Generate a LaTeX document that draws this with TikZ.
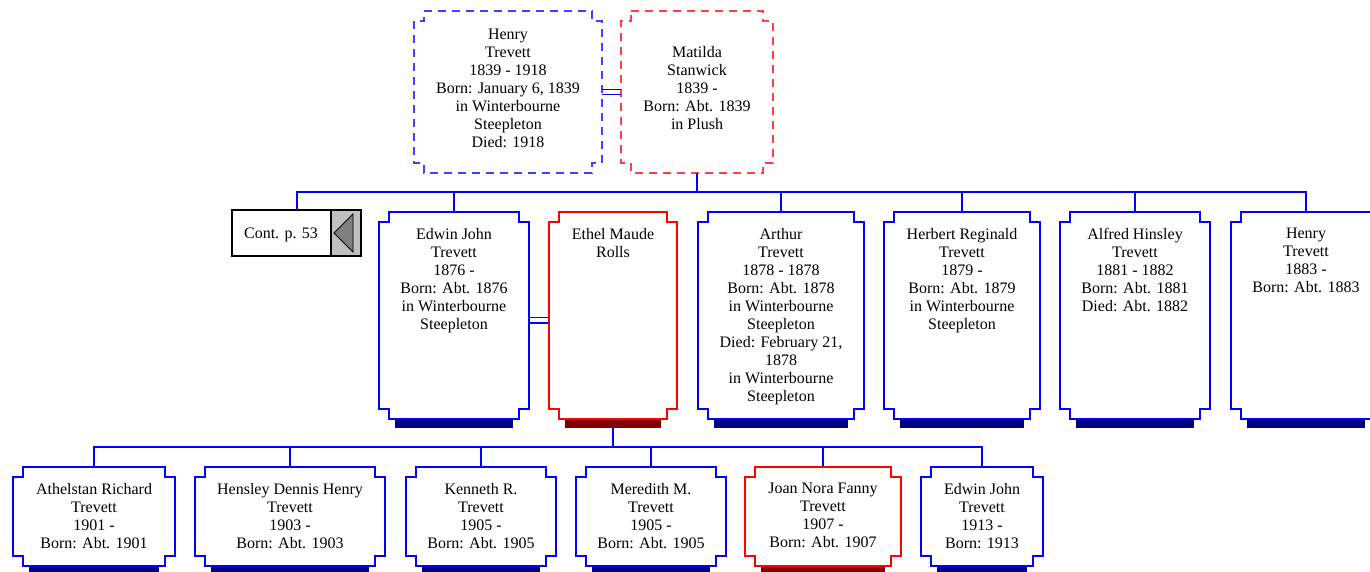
\documentclass[tikz,border=0pt]{standalone}
\usepackage{fontspec}
\setmainfont{Liberation Serif}
\usetikzlibrary{positioning}
\definecolor{linkblue}{RGB}{0,0,255}
\definecolor{wifered}{RGB}{255,0,0}
\definecolor{navyshade}{RGB}{0,0,128}
\definecolor{maroonshade}{RGB}{128,0,0}
\definecolor{btngray}{RGB}{192,192,192}
\definecolor{tipgray}{RGB}{128,128,128}
\newcommand{\cardfont}{\fontsize{16}{18}\selectfont}

\begin{document}
\begin{tikzpicture}[
    x=1pt, y=-1pt,
    link/.style={draw=linkblue, line width=2pt},
    wedlock/.style={draw=linkblue, line width=1.3pt},
    kidbox/.style={minimum width=#1, inner sep=0pt, outer sep=0pt},
    tallkid/.style={kidbox=#1, minimum height=207pt},
    shortkid/.style={kidbox=#1, minimum height=99pt},
    parentbox/.style={kidbox=#1, minimum height=162pt},
    kidtext/.style={anchor=north, yshift=-16pt, align=center, font=\cardfont, inner sep=0pt},
    parenttext/.style={anchor=center, yshift=3.5pt, align=center, font=\cardfont, inner sep=0pt},
    conttext/.style={anchor=center, xshift=-15.5pt, yshift=-2pt, font=\cardfont, inner sep=0pt},
    frameline/.style={line width=2pt},
    dashframe/.style={line width=1.5pt, dash pattern=on 8pt off 6pt},
    notched/.style={insert path={
        ([xshift=10pt]#1.north west) -- ([xshift=-10pt]#1.north east)
        -- ([xshift=-10pt,yshift=-10pt]#1.north east) -- ([yshift=-10pt]#1.north east)
        -- ([yshift=10pt]#1.south east) -- ([xshift=-10pt,yshift=10pt]#1.south east)
        -- ([xshift=-10pt]#1.south east) -- ([xshift=10pt]#1.south west)
        -- ([xshift=10pt,yshift=10pt]#1.south west) -- ([yshift=10pt]#1.south west)
        -- ([yshift=-10pt]#1.north west) -- ([xshift=10pt,yshift=-10pt]#1.north west)
        -- cycle}},
    contbox/.style={
        draw=black, line width=2pt, minimum width=129pt, minimum height=46pt,
        inner sep=0pt, outer sep=0pt
    },
    btnbox/.style={
        draw=black, fill=btngray, line width=1.4pt,
        minimum width=30pt, minimum height=46pt, inner sep=0pt, outer sep=0pt
    }
]
\useasboundingbox (0,0) rectangle (1370,571);
\clip (0,0) rectangle (1370,571);

% --- parents ---
\node[parentbox=188pt, label={[parenttext]center:{Henry\\Trevett\\1839 - 1918\\Born: January 6, 1839\\in Winterbourne\\Steepleton\\Died: 1918}}] (henry) at (508,92) {};
\node[parentbox=152pt, label={[parenttext]center:{Matilda\\Stanwick\\1839 -\\Born: Abt. 1839\\in Plush}}] (matilda) at (697,92) {};
\draw[linkblue!75, dashframe, notched=henry];
\draw[wifered!75, dashframe, notched=matilda];

% --- continuation box ---
\node[contbox, label={[conttext]center:Cont. p. 53}] (cont) at (296.5,233) {};
\node[btnbox, left=0pt of cont.east] (contbtn) {};
\draw[fill=tipgray, line width=0.8pt] ([xshift=3pt]contbtn.west)
    -- ([xshift=-8pt,yshift=19pt]contbtn.east) -- ([xshift=-8pt,yshift=-19pt]contbtn.east) -- cycle;

% --- children ---
\node[tallkid=150pt, label={[kidtext]north:{Edwin John\\Trevett\\1876 -\\Born: Abt. 1876\\in Winterbourne\\Steepleton}}] (edwin) at (454,315.5) {};
\node[tallkid=128pt, label={[kidtext]north:{Ethel Maude\\Rolls}}] (ethel) at (613,315.5) {};
\node[tallkid=166pt, label={[kidtext]north:{Arthur\\Trevett\\1878 - 1878\\Born: Abt. 1878\\in Winterbourne\\Steepleton\\Died: February 21,\\1878\\in Winterbourne\\Steepleton}}] (arthur) at (781,315.5) {};
\node[tallkid=156pt, label={[kidtext]north:{Herbert Reginald\\Trevett\\1879 -\\Born: Abt. 1879\\in Winterbourne\\Steepleton}}] (herbert) at (962,315.5) {};
\node[tallkid=150pt, label={[kidtext]north:{Alfred Hinsley\\Trevett\\1881 - 1882\\Born: Abt. 1881\\Died: Abt. 1882}}] (alfred) at (1135,315.5) {};
\node[tallkid=150pt, label={[kidtext]north:{Henry\\Trevett\\1883 -\\Born: Abt. 1883}}] (henryjr) at (1306,315.5) {};

% --- grandchildren ---
\node[shortkid=162pt, label={[kidtext]north:{Athelstan Richard\\Trevett\\1901 -\\Born: Abt. 1901}}] (athelstan) at (94,516.5) {};
\node[shortkid=190pt, label={[kidtext]north:{Hensley Dennis Henry\\Trevett\\1903 -\\Born: Abt. 1903}}] (hensley) at (290,516.5) {};
\node[shortkid=150pt, label={[kidtext]north:{Kenneth R.\\Trevett\\1905 -\\Born: Abt. 1905}}] (kenneth) at (481,516.5) {};
\node[shortkid=150pt, label={[kidtext]north:{Meredith M.\\Trevett\\1905 -\\Born: Abt. 1905}}] (meredith) at (651,516.5) {};
\node[shortkid=156pt, label={[kidtext]north:{Joan Nora Fanny\\Trevett\\1907 -\\Born: Abt. 1907}}] (joan) at (823,516.5) {};
\node[shortkid=122pt, label={[kidtext]north:{Edwin John\\Trevett\\1913 -\\Born: 1913}}] (edwinjr) at (982,516.5) {};

% --- frames with shadow bars ---
\foreach \n/\c/\s in {edwin/linkblue/navyshade, ethel/wifered/maroonshade,
        arthur/linkblue/navyshade, herbert/linkblue/navyshade, alfred/linkblue/navyshade,
        henryjr/linkblue/navyshade, athelstan/linkblue/navyshade, hensley/linkblue/navyshade,
        kenneth/linkblue/navyshade, meredith/linkblue/navyshade, joan/wifered/maroonshade,
        edwinjr/linkblue/navyshade} {
    \fill[\s] ([xshift=16pt]\n.south west) rectangle ([xshift=-16pt,yshift=-9pt]\n.south east);
    \draw[\c, frameline, notched=\n];
}

% --- marriages ---
\draw[wedlock] ([yshift=2.5pt]henry.east) -- ([yshift=2.5pt]matilda.west);
\draw[wedlock] ([yshift=-2.5pt]henry.east) -- ([yshift=-2.5pt]matilda.west);
\draw[wedlock] ([yshift=-2pt]edwin.east) -- ([yshift=-2pt]ethel.west);
\draw[wedlock] ([yshift=-7.5pt]edwin.east) -- ([yshift=-7.5pt]ethel.west);

% --- descent lines ---
\coordinate (sibrow) at (0,192);
\coordinate (grandrow) at (0,447);
\draw[link] (matilda.south) -- (matilda.south |- sibrow);
\draw[link] (cont.north) |- (sibrow -| henryjr.north) -- (henryjr.north);
\foreach \k in {edwin, arthur, herbert, alfred}
    \draw[link] (\k.north) -- (\k.north |- sibrow);
\draw[link] ([yshift=-9pt]ethel.south) -- (ethel.south |- grandrow);
\draw[link] (athelstan.north) |- (grandrow -| edwinjr.north) -- (edwinjr.north);
\foreach \k in {hensley, kenneth, meredith, joan}
    \draw[link] (\k.north) -- (\k.north |- grandrow);

\end{tikzpicture}
\end{document}
